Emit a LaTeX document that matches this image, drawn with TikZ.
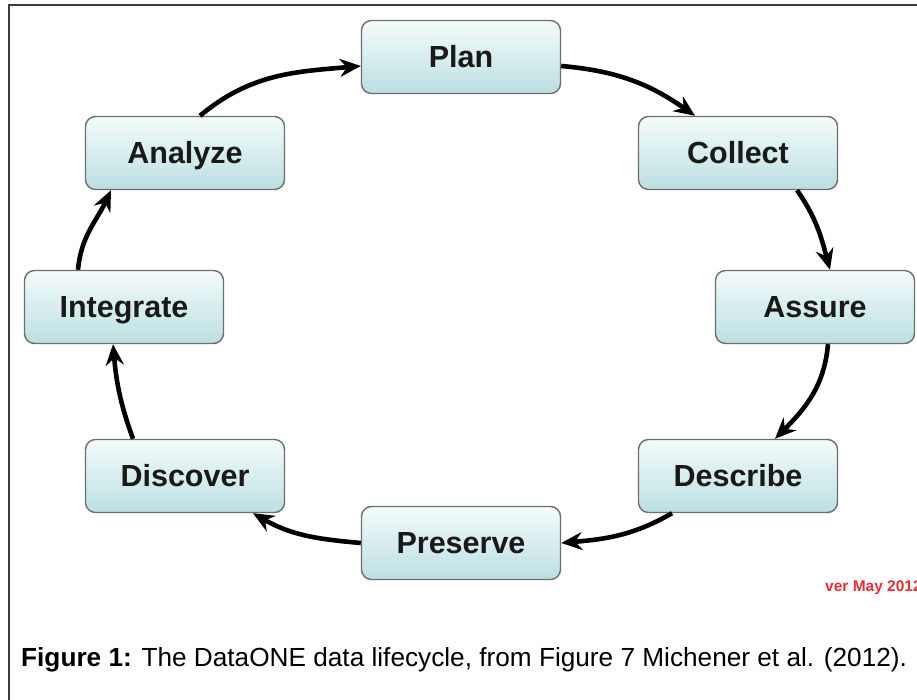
\documentclass[tikz,border=0pt]{standalone}
\usepackage{fontspec}
\setmainfont{Liberation Sans}
\usetikzlibrary{arrows.meta}
\definecolor{boxtop}{HTML}{F4FBFB}
\definecolor{boxbot}{HTML}{BCDFE2}
\definecolor{boxedge}{HTML}{6E6E6E}
\definecolor{framecol}{HTML}{3C3C3C}
\definecolor{vermark}{HTML}{E53035}
\tikzset{
  stage/.style={rectangle, rounded corners=10pt, draw=boxedge, line width=1.4pt,
    top color=boxtop, bottom color=boxbot, minimum width=199pt, minimum height=73pt,
    inner sep=0pt, text height=21.5pt, text depth=0pt,
    font=\fontsize{30.5}{33}\selectfont\bfseries, text=black!90},
  flow/.style={line width=4.6pt, black,
    -{Stealth[length=21pt,width=18pt,inset=7pt]}},
}
\begin{document}
\begin{tikzpicture}[x=1pt,y=1pt]
\clip (0,0) rectangle (917,700);
\fill[white] (0,0) rectangle (917,700);
% frame around the figure
\draw[framecol, line width=2pt] (9,-20) -- (9,695) -- (940,695);

% lifecycle stages
\node[stage] (plan)      at (461,643) {Plan};
\node[stage] (collect)   at (738,547) {Collect};
\node[stage] (assure)    at (815,393) {Assure};
\node[stage] (describe)  at (738,224) {Describe};
\node[stage] (preserve)  at (461,157) {Preserve};
\node[stage] (discover)  at (185,224) {Discover};
\node[stage] (integrate) at (124,393) {Integrate};
\node[stage] (analyze)   at (185,547) {Analyze};

% cycle arrows
\draw[flow] ([yshift=-9pt]plan.east) to[out=-5,in=145] ([xshift=-43pt]collect.north);
\draw[flow] ([xshift=59pt]collect.south) to[out=-55,in=105] ([xshift=15pt]assure.north);
\draw[flow] ([xshift=13pt]assure.south) to[out=-95,in=45] ([xshift=37pt]describe.north);
\draw[flow] ([xshift=-66pt]describe.south) to[out=-150,in=5] (preserve.east);
\draw[flow] (preserve.west) to[out=175,in=-30] ([xshift=68pt]discover.south);
\draw[flow] ([xshift=-52pt]discover.north) to[out=110,in=-85] ([xshift=-11pt]integrate.south);
\draw[flow] ([xshift=-46pt]integrate.north) to[out=85,in=-115] ([xshift=-74pt]analyze.south);
\draw[flow] ([xshift=15pt]analyze.north) to[out=40,in=185] ([yshift=-9pt]plan.west);

% version mark
\node[anchor=base west, inner sep=0pt, text=vermark,
  font=\fontsize{15.5}{18}\selectfont\bfseries] (ver) at (825,108) {ver May 2012};

% caption
\node[anchor=base west, inner sep=0pt, font=\fontsize{26.2}{30}\selectfont] (caption)
  at (21,33) {\textbf{Figure 1:} The DataONE data lifecycle, from Figure 7 Michener et al. (2012).};
\end{tikzpicture}
\end{document}
